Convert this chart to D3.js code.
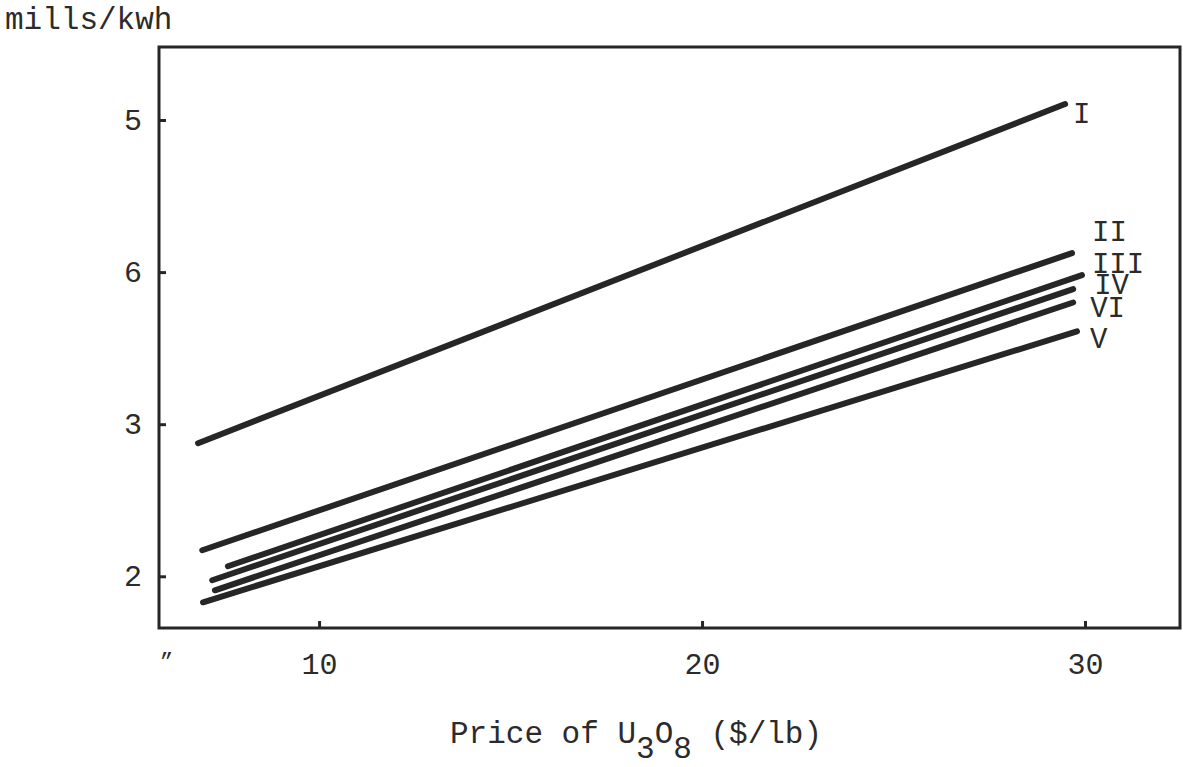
<!DOCTYPE html>
<html>
<head>
<meta charset="utf-8">
<script src="https://cdn.jsdelivr.net/npm/d3@7"></script>
<style>
  html, body { margin: 0; padding: 0; background: #fff; }
  svg { display: block; }
  text { font-family: "Liberation Mono", "Courier New", monospace; fill: #2b2b2b; }
</style>
</head>
<body>
<svg id="chart"></svg>
<script>
// --- DATA ---
const series = ["I", "II", "III", "IV", "VI", "V"];
const priceStart = [6.84, 6.95, 7.62, 7.21, 7.28, 6.97];
const priceEnd = [29.48, 29.66, 29.92, 29.69, 29.69, 29.79];
const costStart = [2.875, 2.171, 2.066, 1.974, 1.908, 1.829];
const costEnd = [5.105, 4.125, 3.98, 3.888, 3.80, 3.61];

const xTicks = [10, 20, 30];
const yTicks = [2, 3, 4, 5];
const yTickLabels = ["2", "3", "6", "5"];

// --- CONFIGURATION ---
const WIDTH = 1183, HEIGHT = 767;
const FRAME = { left: 159, top: 47, right: 1180, bottom: 628 };
const INK = "#262626";
// label offsets from the end of each line (px)
const labelOffset = [[8, 19], [20, -12], [10, -2], [21, 5], [17, 14], [13, 17]];

const svg = d3.select("#chart").attr("width", WIDTH).attr("height", HEIGHT);

const x = d3.scaleLinear().domain([5.82, 32.48]).range([FRAME.left, FRAME.right]);
const y = d3.scaleLinear().domain([1.66, 5.48]).range([FRAME.bottom, FRAME.top]);

// frame
svg.append("rect")
  .attr("x", FRAME.left)
  .attr("y", FRAME.top)
  .attr("width", FRAME.right - FRAME.left)
  .attr("height", FRAME.bottom - FRAME.top)
  .attr("fill", "none")
  .attr("stroke", INK)
  .attr("stroke-width", 3);

// axes (ticks point inward)
const xAxis = svg.append("g")
  .attr("transform", `translate(0,${FRAME.bottom})`)
  .call(d3.axisBottom(x).tickValues(xTicks).tickSizeInner(-7).tickSizeOuter(0).tickPadding(25));

const yAxis = svg.append("g")
  .attr("transform", `translate(${FRAME.left},0)`)
  .call(d3.axisLeft(y).tickValues(yTicks).tickFormat((d, i) => yTickLabels[i])
    .tickSizeInner(-7).tickSizeOuter(0).tickPadding(17));

[xAxis, yAxis].forEach(ax => {
  ax.select(".domain").remove();
  ax.selectAll(".tick line").attr("stroke", INK).attr("stroke-width", 3);
  ax.selectAll(".tick text")
    .attr("fill", INK)
    .style("font-family", '"Liberation Mono", monospace')
    .style("font-size", "30px");
});

// lines
const rows = series.map((name, i) => ({
  name,
  pts: [[priceStart[i], costStart[i]], [priceEnd[i], costEnd[i]]],
  off: labelOffset[i]
}));

const line = d3.line().x(d => x(d[0])).y(d => y(d[1]));

svg.append("g").selectAll("path")
  .data(rows)
  .enter().append("path")
  .attr("d", d => line(d.pts))
  .attr("fill", "none")
  .attr("stroke", INK)
  .attr("stroke-width", 6)
  .attr("stroke-linecap", "round");

svg.append("g").selectAll("text")
  .data(rows)
  .enter().append("text")
  .attr("x", d => x(d.pts[1][0]) + d.off[0])
  .attr("y", d => y(d.pts[1][1]) + d.off[1])
  .style("font-size", "29px")
  .text(d => d.name);

// axis titles
svg.append("text")
  .attr("x", 5)
  .attr("y", 29)
  .style("font-size", "31px")
  .text("mills/kwh");

const xt = svg.append("text")
  .attr("x", 450)
  .attr("y", 743)
  .style("font-size", "31px");
xt.append("tspan").text("Price of U");
xt.append("tspan").attr("dy", 15).text("3");
xt.append("tspan").attr("dy", -15).text("O");
xt.append("tspan").attr("dy", 15).text("8");
xt.append("tspan").attr("dy", -15).text(" ($/lb)");

// small scan mark below the corner
svg.append("text")
  .attr("x", 160)
  .attr("y", 655)
  .style("font-size", "22px")
  .text("\u201E");
</script>
</body>
</html>
